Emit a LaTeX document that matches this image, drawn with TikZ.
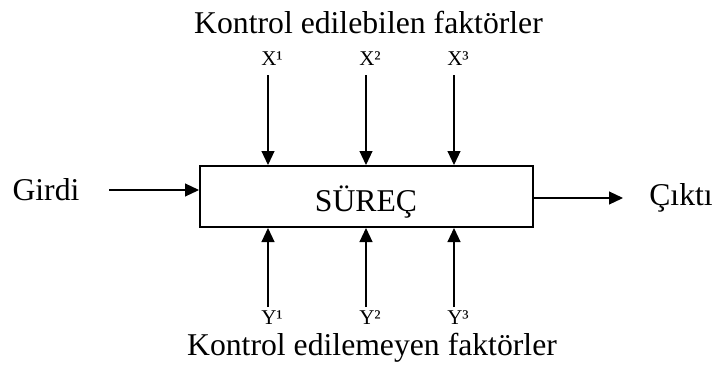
\documentclass[tikz,border=0pt]{standalone}
\usepackage{fontspec}
\setmainfont{Liberation Serif}
\usetikzlibrary{arrows.meta}
\begin{document}
\begin{tikzpicture}[x=1pt,y=-1pt,
  bigtext/.style={font=\fontsize{31.7}{36}\selectfont, inner sep=0pt, anchor=base},
  smalltext/.style={font=\fontsize{21}{24}\selectfont, inner sep=0pt, anchor=base},
  flow/.style={line width=1.1pt, -{Triangle[length=14pt,width=13pt]}},
  process/.style={draw, line width=2pt, minimum width=333pt, minimum height=61pt, inner sep=0pt}
]
\useasboundingbox (0,0) rectangle (714,381);

% the process block
\node[process] (box) at (366.5,196.5) {};
\node[bigtext] (surec) at (366,211.5) {SÜREÇ};

% headings
\node[bigtext] (ctop) at (368.5,33) {Kontrol edilebilen faktörler};
\node[bigtext] (cbot) at (372,355) {Kontrol edilemeyen faktörler};

% input and output
\node[bigtext] (girdi) at (46,200) {Girdi};
\node[bigtext] (cikti) at (681,205) {Çıktı};
\coordinate (inA) at (109,190);
\coordinate (outB) at (623,198);
\draw[flow] (inA) -- (inA -| box.west);
\draw[flow] (outB -| box.east) -- (outB);

% controllable factors
\foreach \i/\xx in {1/268,2/366,3/454}{
  \node[smalltext] (x\i) at (\xx+4,65.5) {X\ifcase\i\or¹\or²\or³\fi};
  \coordinate (xs\i) at (\xx,75);
  \draw[flow] (xs\i) -- (xs\i |- box.north);
}

% uncontrollable factors
\foreach \i/\xx in {1/268,2/366,3/454}{
  \node[smalltext] (y\i) at (\xx+4,324) {Y\ifcase\i\or¹\or²\or³\fi};
  \coordinate (ys\i) at (\xx,307);
  \draw[flow] (ys\i) -- (ys\i |- box.south);
}
\end{tikzpicture}
\end{document}
